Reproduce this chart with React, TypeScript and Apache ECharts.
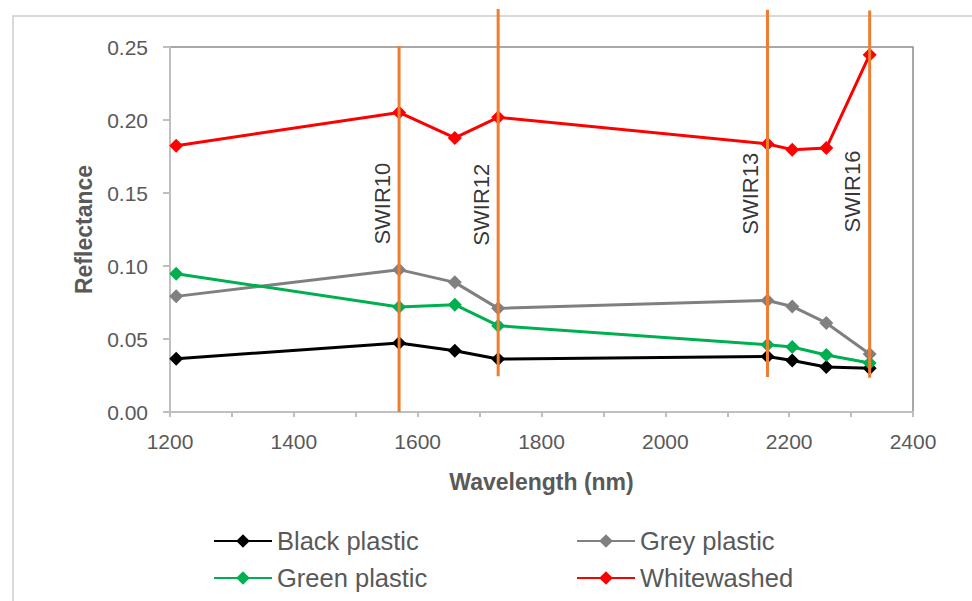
import React, { useEffect, useRef } from "react";
import * as echarts from "echarts";

const wavelengths = [1210, 1570, 1660, 1730, 2165, 2205, 2260, 2330];
const blackPlastic = [0.0365, 0.0473, 0.042, 0.0363, 0.038, 0.0353, 0.0308, 0.030];
const greyPlastic = [0.0792, 0.0975, 0.0888, 0.071, 0.0764, 0.0723, 0.061, 0.0397];
const greenPlastic = [0.0947, 0.0719, 0.0735, 0.0591, 0.0461, 0.0445, 0.039, 0.0336];
const whitewashed = [0.1824, 0.2052, 0.1877, 0.2018, 0.1836, 0.1797, 0.1808, 0.2447];

const bandNames = ["SWIR10", "SWIR12", "SWIR13", "SWIR16"];
const bandWavelengths = [1570, 1730, 2165, 2330];
const bandLineBottom = [0, 0.0245, 0.024, 0.0235];
const bandLineTop = [0.2507, 0.276, 0.2755, 0.275];
const bandLabelY = [0.1427, 0.142, 0.1495, 0.151];

const seriesNames = ["Black plastic", "Grey plastic", "Green plastic", "Whitewashed"];
const seriesValues = [blackPlastic, greyPlastic, greenPlastic, whitewashed];
const seriesColors = ["#000000", "#808080", "#00b050", "#ff0000"];

const FONT = "Liberation Sans";
const TEXT = "#595959";

export default function App() {
  const ref = useRef<HTMLDivElement>(null);
  useEffect(() => {
    if (!ref.current) return;
    const chart = echarts.init(ref.current, undefined, { renderer: "svg" });
    const dataSeries = seriesNames.map((name, i) => ({
      name,
      type: "line",
      data: wavelengths.map((w, j) => [w, seriesValues[i][j]]),
      symbol: "diamond",
      symbolSize: 14,
      color: seriesColors[i],
      lineStyle: { width: 3, color: seriesColors[i] },
      itemStyle: { color: seriesColors[i] },
      z: 3,
    }));
    const bandSeries = bandWavelengths.map((w, i) => ({
      name: "band" + i,
      type: "line",
      clip: false,
      symbol: "none",
      data: [
        [w, bandLineBottom[i]],
        [w, bandLineTop[i]],
      ],
      lineStyle: { width: 3, color: "#ed7d31" },
      z: 4,
    }));
    const labelSeries = {
      name: "bandLabels",
      type: "scatter",
      symbolSize: 0,
      clip: false,
      data: bandWavelengths.map((w, i) => ({ value: [w, bandLabelY[i]], name: bandNames[i] })),
      label: {
        show: true,
        position: "inside",
        rotate: 90,
        offset: [0, -17],
        formatter: (p: any) => p.name,
        fontFamily: FONT,
        fontSize: 22,
        color: "#000000",
      },
      z: 5,
    };
    const legendBase = {
      itemWidth: 58,
      itemHeight: 17,
      padding: 0,
      textStyle: { fontFamily: FONT, fontSize: 25.5, color: TEXT },
      selectedMode: false,
    };
    chart.setOption({
      animation: false,
      backgroundColor: "#ffffff",
      graphic: [
        {
          type: "rect",
          shape: { x: 13, y: 16, width: 1100, height: 800 },
          style: { fill: "none", stroke: "#d9d9d9", lineWidth: 2 },
          silent: true,
          z: -10,
        },
      ],
      legend: [
        { ...legendBase, data: [seriesNames[0]], left: 213, top: 528 },
        { ...legendBase, data: [seriesNames[1]], left: 576, top: 528 },
        { ...legendBase, data: [seriesNames[2]], left: 213, top: 565 },
        { ...legendBase, data: [seriesNames[3]], left: 576, top: 565 },
      ],
      grid: {
        left: 170,
        right: 59,
        top: 47,
        bottom: 189,
        show: true,
        borderColor: "#8c8c8c",
        borderWidth: 1.5,
      },
      xAxis: {
        type: "value",
        min: 1200,
        max: 2400,
        interval: 200,
        name: "Wavelength (nm)",
        nameLocation: "middle",
        nameGap: 58,
        nameTextStyle: { fontFamily: FONT, fontSize: 23, fontWeight: "bold", color: TEXT },
        axisLine: { show: true, lineStyle: { color: "#bfbfbf", width: 2 } },
        axisTick: { show: true, length: 5, lineStyle: { color: "#bfbfbf", width: 2 } },
        minorTick: { show: true, splitNumber: 2, length: 5, lineStyle: { color: "#bfbfbf", width: 2 } },
        splitLine: { show: false },
        axisLabel: {
          fontFamily: FONT,
          fontSize: 21,
          color: TEXT,
          margin: 19,
          formatter: (v: number) => String(v),
        },
      },
      yAxis: {
        type: "value",
        min: 0,
        max: 0.25,
        interval: 0.05,
        name: "Reflectance",
        nameLocation: "middle",
        nameGap: 75,
        nameTextStyle: { fontFamily: FONT, fontSize: 23, fontWeight: "bold", color: TEXT },
        axisLine: { show: true, lineStyle: { color: "#bfbfbf", width: 2 } },
        axisTick: { show: true, length: 7, lineStyle: { color: "#bfbfbf", width: 2 } },
        splitLine: { show: false },
        axisLabel: {
          fontFamily: FONT,
          fontSize: 21,
          color: TEXT,
          margin: 22,
          formatter: (v: number) => v.toFixed(2),
        },
      },
      series: [...dataSeries, ...bandSeries, labelSeries],
    } as any);
    return () => chart.dispose();
  }, []);
  return (
    <div
      ref={ref}
      style={{ position: "absolute", left: 0, top: 0, width: 972, height: 601 }}
    />
  );
}
